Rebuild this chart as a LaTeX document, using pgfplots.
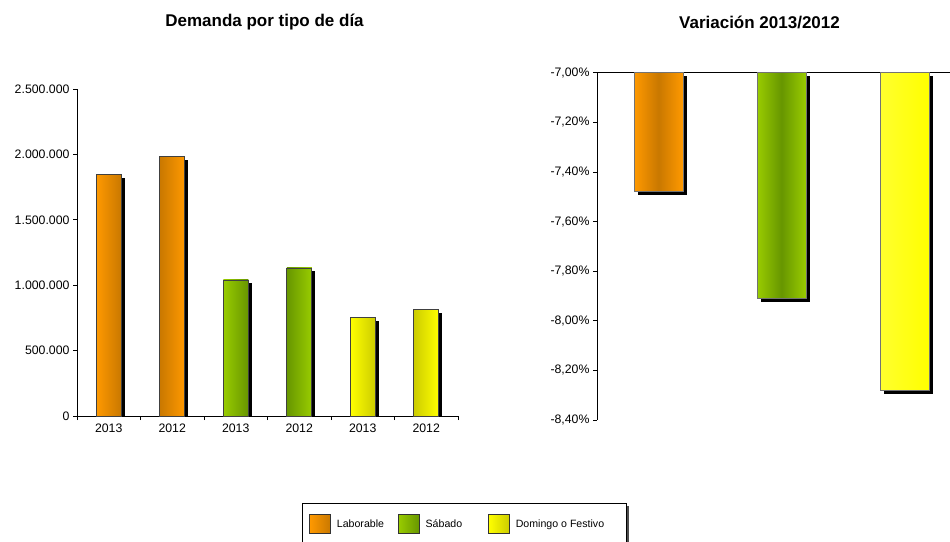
\documentclass[border=0pt]{standalone}
\usepackage{pgfplots}
\pgfplotsset{compat=1.18}
\usepackage{fontspec}
\setmainfont{Liberation Sans}
\usetikzlibrary{shadows}

\definecolor{orL}{HTML}{FF9900}
\definecolor{orD}{HTML}{C97800}
\definecolor{grL}{HTML}{99CC00}
\definecolor{grD}{HTML}{679600}
\definecolor{yeL}{HTML}{FFFF00}
\definecolor{yeD}{HTML}{CCCC00}

\makeatletter
\tikzset{nopre/.code={\let\tikz@preactions\pgfutil@empty}}
\makeatother

\pgfplotsset{
  shadowbar/.style={forget plot, fill=black, draw=none, bar shift=3.5pt, yshift=-3.5pt},
  bar/.style={forget plot, draw=black!75, line width=0.7pt},
  myleg/.style={legend image code/.code={%
    \path[nopre, draw=black!80, line width=0.6pt, ##1] (0pt,-9pt) rectangle (21pt,10pt);}}
}

\begin{document}
\begin{tikzpicture}[x=1pt,y=1pt]
\useasboundingbox (0,0) rectangle (950,541);

\node[font=\bfseries\fontsize{17}{19}\selectfont] at (264.5,519) {Demanda por tipo de día};
\node[font=\bfseries\fontsize{17}{19}\selectfont] at (759.5,519) {Variación 2013/2012};

% demanda por tipo de dia
\begin{axis}[at={(77pt,125pt)}, anchor=south west, scale only axis,
  width=381pt, height=327pt,
  xmin=-0.5, xmax=5.5, ymin=0, ymax=2500000,
  axis x line*=bottom, axis y line*=left,
  ybar, bar width=25pt, bar shift=0pt,
  xtick={0,...,5}, xticklabels={2013,2012,2013,2012,2013,2012},
  major x tick style={draw=none}, minor xtick={-0.5,0.5,...,5.5},
  ytick={0,500000,1000000,1500000,2000000,2500000},
  yticklabels={0,500.000,1.000.000,1.500.000,2.000.000,2.500.000},
  scaled y ticks=false,
  tick align=outside, major tick length=4pt, minor tick length=4pt,
  tick style={black, line width=0.6pt},
  axis line style={line width=0.8pt},
  tick label style={font=\fontsize{12.3}{14}\selectfont},
  legend columns=3,
  legend style={at={(0.5906,-0.266)}, anchor=north west, draw=black, fill=white,
    line width=0.6pt, inner xsep=7pt, inner ysep=11pt,
    font=\fontsize{10.6}{12}\selectfont,
    drop shadow={shadow xshift=3pt, shadow yshift=-3pt, fill=black!70, opacity=1},
    /tikz/every odd column/.append style={column sep=4pt},
    /tikz/every even column/.append style={column sep=12pt}},
]
\addplot[shadowbar] coordinates {(0,1845000)};
\addplot[shadowbar] coordinates {(1,1985000)};
\addplot[shadowbar] coordinates {(2,1040000)};
\addplot[shadowbar] coordinates {(3,1132000)};
\addplot[shadowbar] coordinates {(4,753000)};
\addplot[shadowbar] coordinates {(5,817000)};
\addplot[bar, left color=orL, right color=orD] coordinates {(0,1845000)};
\addplot[bar, left color=orD, right color=orL] coordinates {(1,1985000)};
\addplot[bar, left color=grL, right color=grD] coordinates {(2,1040000)};
\addplot[bar, left color=grD, right color=grL] coordinates {(3,1132000)};
\addplot[bar, left color=yeL, right color=yeD] coordinates {(4,753000)};
\addplot[bar, left color=yeD, right color=yeL] coordinates {(5,817000)};
\addlegendimage{myleg, left color=orL, right color=orD}
\addlegendentry{Laborable}
\addlegendimage{myleg, left color=grL, right color=grD}
\addlegendentry{Sábado\kern12pt}
\addlegendimage{myleg, left color=yeL, right color=yeD}
\addlegendentry{Domingo o Festivo\kern13pt}
\end{axis}

% variacion
\begin{axis}[at={(597pt,121pt)}, anchor=south west, scale only axis,
  width=353pt, height=347.3pt,
  xmin=-0.5, xmax=2.37, ymin=-8.4, ymax=-7,
  axis x line*=top, axis y line*=left, xtick=\empty,
  ybar, bar width=49pt, bar shift=0pt,
  ytick={-8.4,-8.2,-8,-7.8,-7.6,-7.4,-7.2,-7},
  yticklabels={{-8,40\%},{-8,20\%},{-8,00\%},{-7,80\%},{-7,60\%},{-7,40\%},{-7,20\%},{-7,00\%}},
  tick align=outside, major tick length=4pt,
  tick style={black, line width=0.6pt},
  axis line style={line width=0.8pt},
  tick label style={font=\fontsize{12.3}{14}\selectfont},
]
\addplot[shadowbar] coordinates {(0,-7.48)};
\addplot[shadowbar] coordinates {(1,-7.91)};
\addplot[shadowbar] coordinates {(2,-8.28)};
\addplot[bar, draw=black!55, left color=orL, right color=orL, middle color=orD] coordinates {(0,-7.48)};
\addplot[bar, draw=black!55, left color=grL, right color=grL, middle color=grD] coordinates {(1,-7.91)};
\addplot[bar, draw=black!55, left color=yeL!82!white, right color=yeL] coordinates {(2,-8.28)};
\end{axis}
\end{tikzpicture}
\end{document}
